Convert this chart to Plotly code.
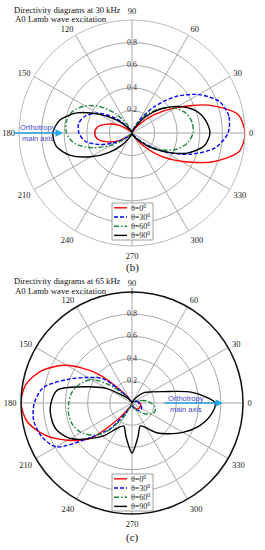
import plotly.graph_objects as go

W, H = 265, 550

# ---------------- data ----------------
THETA = [0, 10, 20, 30, 40, 50, 60, 70, 80, 90, 100, 110, 120, 130, 140, 150, 160, 170,
         180, 190, 200, 210, 220, 230, 240, 250, 260, 270, 280, 290, 300, 310, 320, 330, 340, 350]

SERIES = ["θ=0<sup>0</sup>", "θ=30<sup>0</sup>", "θ=60<sup>0</sup>", "θ=90<sup>0</sup>"]

# 30 kHz
R30_T0 = [1.00, 0.95, 0.72, 0.45, 0.25, 0.10, 0.03, 0.01, 0.00, 0.00, 0.00, 0.00,
          0.01, 0.02, 0.06, 0.14, 0.23, 0.31, 0.33, 0.31, 0.23, 0.14, 0.06, 0.02,
          0.01, 0.00, 0.00, 0.00, 0.00, 0.01, 0.04, 0.13, 0.30, 0.50, 0.75, 0.96]
R30_T30 = [0.85, 0.87, 0.82, 0.68, 0.50, 0.30, 0.13, 0.04, 0.01, 0.00, 0.01, 0.02,
           0.04, 0.10, 0.22, 0.35, 0.44, 0.48, 0.47, 0.42, 0.30, 0.16, 0.06, 0.02,
           0.01, 0.00, 0.00, 0.00, 0.00, 0.01, 0.01, 0.05, 0.15, 0.33, 0.55, 0.75]
R30_T60 = [0.54, 0.54, 0.51, 0.44, 0.34, 0.22, 0.10, 0.03, 0.01, 0.00, 0.01, 0.02,
           0.09, 0.22, 0.36, 0.48, 0.56, 0.59, 0.58, 0.52, 0.38, 0.22, 0.09, 0.02,
           0.01, 0.00, 0.00, 0.00, 0.00, 0.01, 0.02, 0.07, 0.17, 0.30, 0.42, 0.50]
R30_T90 = [0.69, 0.66, 0.59, 0.47, 0.33, 0.19, 0.07, 0.02, 0.01, 0.01, 0.01, 0.02,
           0.03, 0.07, 0.18, 0.33, 0.52, 0.65, 0.70, 0.68, 0.58, 0.42, 0.27, 0.14,
           0.05, 0.02, 0.01, 0.01, 0.01, 0.02, 0.03, 0.07, 0.18, 0.33, 0.52, 0.65]

# 65 kHz
R65_T0 = [0.07, 0.06, 0.05, 0.03, 0.02, 0.01, 0.01, 0.00, 0.00, 0.00, 0.00, 0.01,
          0.03, 0.12, 0.42, 0.68, 0.86, 0.97, 1.00, 0.96, 0.84, 0.67, 0.50, 0.18,
          0.05, 0.02, 0.01, 0.02, 0.03, 0.04, 0.05, 0.07, 0.08, 0.08, 0.08, 0.08]
R65_T30 = [0.06, 0.06, 0.04, 0.02, 0.01, 0.01, 0.00, 0.00, 0.00, 0.00, 0.00, 0.01,
           0.02, 0.10, 0.34, 0.46, 0.62, 0.81, 0.88, 0.90, 0.87, 0.79, 0.48, 0.30,
           0.08, 0.02, 0.01, 0.02, 0.03, 0.05, 0.07, 0.09, 0.10, 0.10, 0.09, 0.07]
R65_T60 = [0.17, 0.12, 0.06, 0.03, 0.01, 0.00, 0.00, 0.00, 0.00, 0.00, 0.00, 0.01,
           0.02, 0.06, 0.24, 0.42, 0.50, 0.55, 0.57, 0.58, 0.57, 0.53, 0.45, 0.32,
           0.13, 0.03, 0.01, 0.01, 0.02, 0.03, 0.06, 0.10, 0.15, 0.20, 0.22, 0.21]
R65_T90 = [0.75, 0.55, 0.30, 0.20, 0.15, 0.08, 0.03, 0.01, 0.01, 0.01, 0.01, 0.01,
           0.02, 0.05, 0.10, 0.26, 0.43, 0.68, 0.73, 0.74, 0.72, 0.64, 0.50, 0.38,
           0.26, 0.22, 0.31, 0.45, 0.31, 0.22, 0.26, 0.35, 0.43, 0.53, 0.63, 0.71]

RADIAL_TICKS_TOP = [0.2, 0.4, 0.6, 0.8]
RADIAL_TICKS_BOTTOM = [0.2, 0.4, 0.6, 0.8, 1]
ANGLE_TICKS = [0, 30, 60, 90, 120, 150, 180, 210, 240, 270, 300, 330]
ANGLE_LABELS = ["0", "30", "60", "90", "120", "150", "180", "210", "240", "270", "300", "330"]
TITLES_TOP = ["Directivity diagrams at 30 kHz", "A0 Lamb wave excitation"]
TITLES_BOTTOM = ["Directivity diagrams at 65 kHz", "A0 Lamb wave excitation"]
PANEL_LABELS = ["(b)", "(c)"]
ARROW_TEXT = ["Orthotropy", "main axis"]

# ---------------- styles ----------------
COLORS = ["#ff0000", "#0000ff", "#17873a", "#000000"]
DASHES = ["solid", "4px,2px", "5px,2px,1.5px,2px", "solid"]
SERIF = "Liberation Serif"
SANS = "Liberation Sans"
GRID = "#a8a8a8"


def px(x):
    return x / W


def py(y):
    return 1 - y / H


fig = go.Figure()


def add_curves(subplot, data):
    for i, r in enumerate(data):
        fig.add_trace(go.Scatterpolar(
            r=r + [r[0]], theta=THETA + [THETA[0]], mode="lines", subplot=subplot,
            name=SERIES[i], showlegend=False,
            line=dict(color=COLORS[i], width=1.4, dash=DASHES[i], shape="spline", smoothing=0.8),
        ))


def add_radial_labels(subplot, ticks):
    fig.add_trace(go.Scatterpolar(
        r=ticks, theta=[90] * len(ticks), mode="text", subplot=subplot,
        text=[f"{v:g}" for v in ticks], showlegend=False, hoverinfo="skip",
        textfont=dict(family=SERIF, size=8, color="#333"), cliponaxis=False,
    ))


add_curves("polar", [R30_T0, R30_T30, R30_T60, R30_T90])
add_radial_labels("polar", RADIAL_TICKS_TOP)
add_curves("polar2", [R65_T0, R65_T30, R65_T60, R65_T90])
add_radial_labels("polar2", RADIAL_TICKS_BOTTOM)


def polar_layout(cx, cy, rad, line_color, line_width):
    return dict(
        domain=dict(x=[px(cx - rad), px(cx + rad)], y=[py(cy + rad), py(cy - rad)]),
        bgcolor="white",
        radialaxis=dict(range=[0, 1], tickvals=RADIAL_TICKS_TOP, showticklabels=False, ticks="",
                        showline=False, gridcolor=GRID, gridwidth=0.8, angle=90),
        angularaxis=dict(direction="counterclockwise", rotation=0, tickmode="array",
                         tickvals=ANGLE_TICKS, ticktext=ANGLE_LABELS,
                         ticks="outside", ticklen=2, tickcolor="rgba(0,0,0,0)",
                         showline=True, linecolor=line_color, linewidth=line_width,
                         gridcolor=GRID, gridwidth=0.8,
                         tickfont=dict(family=SERIF, size=8.5, color="#222")),
    )


annotations = []
shapes = []


def add_panel(cy, titles, label, arrow_head_x, arrow_tail_dx, text_x, box_top, title_y):
    # titles
    annotations.append(dict(x=px(12), y=py(title_y), xref="paper", yref="paper", text=titles[0],
                            showarrow=False, xanchor="left", yanchor="middle",
                            font=dict(family=SERIF, size=8.6, color="#111")))
    annotations.append(dict(x=px(13), y=py(title_y + 9.5), xref="paper", yref="paper", text=titles[1],
                            showarrow=False, xanchor="left", yanchor="middle",
                            font=dict(family=SERIF, size=8.8, color="#111")))
    # panel label
    annotations.append(dict(x=px(132), y=py(cy + 134), xref="paper", yref="paper", text=label,
                            showarrow=False, xanchor="center", yanchor="middle",
                            font=dict(family=SERIF, size=11, color="#111")))
    # orthotropy arrow
    annotations.append(dict(x=px(arrow_head_x), y=py(cy), xref="paper", yref="paper", text="",
                            showarrow=True, ax=-arrow_tail_dx, ay=0, arrowhead=2, arrowsize=1,
                            arrowwidth=1.5, arrowcolor="#22a5e6", standoff=0))
    annotations.append(dict(x=px(text_x), y=py(cy - 5), xref="paper", yref="paper", text=ARROW_TEXT[0],
                            showarrow=False, xanchor="center", yanchor="middle",
                            font=dict(family=SANS, size=7.5, color="#4646c8")))
    annotations.append(dict(x=px(text_x), y=py(cy + 6), xref="paper", yref="paper", text=ARROW_TEXT[1],
                            showarrow=False, xanchor="center", yanchor="middle",
                            font=dict(family=SANS, size=7.5, color="#4646c8")))
    # manual legend
    bx0, bx1, by0, by1 = 112, 153, box_top, box_top + 37
    shapes.append(dict(type="rect", xref="paper", yref="paper", x0=px(bx0), x1=px(bx1),
                       y0=py(by1), y1=py(by0), line=dict(color="#888", width=0.8), fillcolor="white",
                       layer="above"))
    for i, name in enumerate(SERIES):
        yy = by0 + 4.8 + 9.2 * i
        shapes.append(dict(type="line", xref="paper", yref="paper", x0=px(114), x1=px(127),
                           y0=py(yy), y1=py(yy), line=dict(color=COLORS[i], width=1.4, dash=DASHES[i]),
                           layer="above"))
        annotations.append(dict(x=px(129), y=py(yy), xref="paper", yref="paper", text=name,
                                showarrow=False, xanchor="left", yanchor="middle",
                                font=dict(family=SERIF, size=8, color="#222")))


add_panel(133, TITLES_TOP, PANEL_LABELS[0], 63, 50, 38, 203, 10)
add_panel(403, TITLES_BOTTOM, PANEL_LABELS[1], 223, 60, 186, 474, 281)

fig.update_layout(
    width=W, height=H, margin=dict(l=0, r=0, t=0, b=0),
    paper_bgcolor="white", plot_bgcolor="white", showlegend=False,
    polar=polar_layout(132, 133, 113, "#a8a8a8", 0.8),
    polar2=polar_layout(132, 403, 111, "#111111", 1.5),
    annotations=annotations, shapes=shapes,
)

fig.write_html("out.html", config={"displayModeBar": False},
               post_script="document.body.style.margin='0';")
